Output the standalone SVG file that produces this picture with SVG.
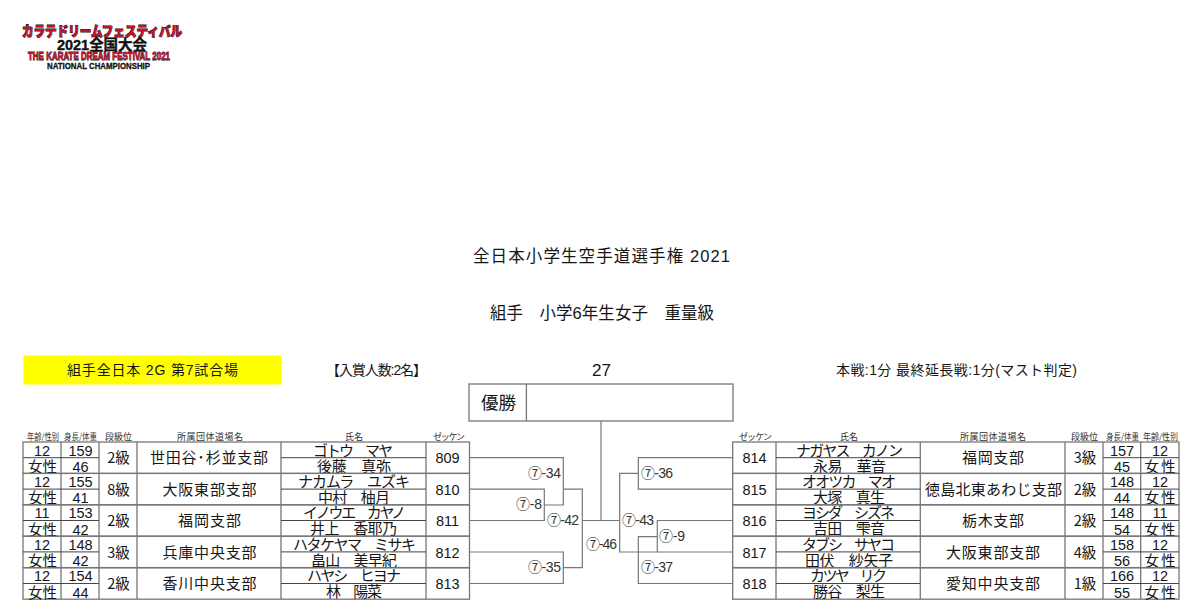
<svg xmlns="http://www.w3.org/2000/svg" width="1200" height="616" viewBox="0 0 1200 616">
<style>
text{font-family:"Liberation Sans","Noto Sans CJK JP",sans-serif;fill:#161616;font-size:14.5px}
.m{text-anchor:middle}
.cj{font-family:"Noto Sans CJK JP","Liberation Sans",sans-serif;font-size:14.5px}
.h{font-family:"Noto Sans CJK JP",sans-serif;font-size:9px;fill:#333}
.n{font-family:"Noto Sans CJK JP",sans-serif;font-size:15px}
.c{font-family:"Liberation Sans","Noto Sans CJK JP",sans-serif;font-size:14px;fill:#333}
.t{font-size:14px}
.title{font-size:16.5px}
.win{font-family:"Noto Sans CJK JP",sans-serif;font-size:17.5px}
.num{font-size:17px}
.g{fill:none;stroke:#777;stroke-width:1.3}
.i{fill:none;stroke:#444;stroke-width:1}
.con{fill:none;stroke:#777;stroke-width:1.2}
.lr{font-family:"Noto Sans CJK JP",sans-serif;font-weight:900;font-size:13.5px;fill:#c8102e;stroke:#111;stroke-width:1;paint-order:stroke}
.lr2{font-family:"Liberation Sans",sans-serif;font-weight:700;font-size:11px;fill:#c8102e;stroke:#111;stroke-width:.8;paint-order:stroke}
.lk{font-family:"Liberation Sans","Noto Sans CJK JP",sans-serif;font-weight:700;font-size:14.5px;fill:#111;stroke:#111;stroke-width:.4}
.lk2{font-family:"Liberation Sans",sans-serif;font-weight:700;font-size:8.5px;fill:#111;stroke:#111;stroke-width:.3}
</style>
<defs>
<g id="rowL"><rect class="g" x="23" y="0" width="446.5" height="31.4"/><path class="g" d="M61 0V31.4M99 0V31.4M137 0V31.4M281 0V31.4M426 0V31.4"/><path class="i" d="M23 15.7H99M281 15.7H426"/></g>
<g id="rowR"><rect class="g" x="732.7" y="0" width="446.3" height="31.4"/><path class="g" d="M776 0V31.4M920.3 0V31.4M1065 0V31.4M1103 0V31.4M1140.7 0V31.4"/><path class="i" d="M776 15.7H920.3M1103 15.7H1179"/></g>
</defs>

<g id="logo">
<text class="lr" x="22" y="36" textLength="160" lengthAdjust="spacingAndGlyphs">カラテドリームフェスティバル</text>
<text class="lk" x="57" y="50" textLength="90" lengthAdjust="spacingAndGlyphs">2021全国大会</text>
<text class="lr2" x="28" y="60" textLength="142" lengthAdjust="spacingAndGlyphs">THE KARATE DREAM FESTIVAL 2021</text>
<text class="lk2" x="47" y="68.500" textLength="103" lengthAdjust="spacingAndGlyphs">NATIONAL CHAMPIONSHIP</text>
</g>

<g id="titles">
<text class="title" x="473" y="262" textLength="257">全日本小学生空手道選手権 2021</text>
<text class="title" x="490" y="319" textLength="224">組手　小学6年生女子　重量級</text>
</g>

<g id="info">
<rect x="23.5" y="355.5" width="258" height="29" fill="#ffff00"/>
<text class="t" x="67" y="375" textLength="171">組手全日本 2G 第7試合場</text>
<text class="t" x="326" y="375" textLength="101">【入賞人数:2名】</text>
<text class="num" x="592" y="375.500">27</text>
<text class="t" x="836" y="375" textLength="241">本戦:1分 最終延長戦:1分(マスト判定)</text>
</g>

<g id="winner">
<rect class="g" x="469" y="384" width="264" height="37"/>
<path class="g" d="M526.4 384V421"/>
<text class="win" x="481" y="409">優勝</text>
</g>

<g id="headers">
<text class="h" x="27" y="439.5" textLength="32" lengthAdjust="spacingAndGlyphs">年齢/性別</text>
<text class="h" x="64" y="439.5" textLength="33" lengthAdjust="spacingAndGlyphs">身長/体重</text>
<text class="h" x="105" y="439.5" textLength="27">段級位</text>
<text class="h" x="177" y="439.5" textLength="66">所属団体道場名</text>
<text class="h" x="345" y="439.5" textLength="18">氏名</text>
<text class="h" x="433" y="439.5" textLength="32">ゼッケン</text>
<text class="h" x="739" y="439.5" textLength="33">ゼッケン</text>
<text class="h" x="840" y="439.5" textLength="18">氏名</text>
<text class="h" x="960" y="439.5" textLength="66">所属団体道場名</text>
<text class="h" x="1071" y="439.5" textLength="27">段級位</text>
<text class="h" x="1106" y="439.5" textLength="33" lengthAdjust="spacingAndGlyphs">身長/体重</text>
<text class="h" x="1143" y="439.5" textLength="35" lengthAdjust="spacingAndGlyphs">年齢/性別</text>
</g>

<g id="connectors">
<path class="con" d="M469.5 457.7H563.3V505H544.3"/>
<path class="con" d="M469.5 489.1H544.3V520.5H469.5"/>
<path class="con" d="M469.5 552H563.3V583.5H469.5"/>
<path class="con" d="M563.3 489.1H582.3V567.7H563.3"/>
<path class="con" d="M582.3 520.5H619.7"/>
<path class="con" d="M601 421V520.5"/>
<path class="con" d="M638.3 473.3H619.7V552H657.3"/>
<path class="con" d="M732.7 457.7H638.3V489.1H732.7"/>
<path class="con" d="M732.7 520.5H657.3V552H732.7"/>
<path class="con" d="M657.3 536.7H638.3V583.5H732.7"/>
</g>

<g id="match-labels">
<text class="c" x="528" y="477.5" textLength="33">⑦-34</text>
<text class="c" x="516" y="509" textLength="26">⑦-8</text>
<text class="c" x="547" y="524.5" textLength="32">⑦-42</text>
<text class="c" x="528" y="571.5" textLength="33">⑦-35</text>
<text class="c" x="586" y="548.5" textLength="31">⑦-46</text>
<text class="c" x="641" y="477.5" textLength="32">⑦-36</text>
<text class="c" x="622" y="524.5" textLength="32">⑦-43</text>
<text class="c" x="659" y="540.5" textLength="26">⑦-9</text>
<text class="c" x="641" y="571.5" textLength="32">⑦-37</text>
</g>

<g id="entry-809"><use href="#rowL" y="442"/>
<text class="m" x="42" y="455.5">12</text><text class="m cj" x="42.5" y="472" textLength="29">女性</text>
<text class="m" x="80.5" y="455.5">159</text><text class="m" x="80.5" y="472">46</text>
<text class="m cj" x="118.5" y="463">2級</text>
<text class="n" x="150" y="463" textLength="118">世田谷･杉並支部</text>
<text class="n" x="313" y="455.5" textLength="80">ゴトウ　マヤ</text><text class="n" x="317" y="471.5" textLength="74">後藤　真弥</text>
<text class="m" x="447.5" y="463">809</text></g>

<g id="entry-810"><use href="#rowL" y="473.4"/>
<text class="m" x="42" y="487">12</text><text class="m cj" x="42.5" y="503.4" textLength="29">女性</text>
<text class="m" x="80.5" y="487">155</text><text class="m" x="80.5" y="503.4">41</text>
<text class="m cj" x="118.5" y="494.5">8級</text>
<text class="n" x="162.500" y="494.5" textLength="94">大阪東部支部</text>
<text class="n" x="298" y="487" textLength="112">ナカムラ　ユズキ</text><text class="n" x="318" y="503" textLength="72">中村　柚月</text>
<text class="m" x="447.5" y="494.500">810</text></g>

<g id="entry-811"><use href="#rowL" y="504.8"/>
<text class="m" x="42" y="518.400">11</text><text class="m cj" x="42.5" y="534.800" textLength="29">女性</text>
<text class="m" x="80.5" y="518.400">153</text><text class="m" x="80.5" y="534.800">42</text>
<text class="m cj" x="118.5" y="526">2級</text>
<text class="n" x="178" y="526" textLength="63">福岡支部</text>
<text class="n" x="303" y="518.400" textLength="103">イノウエ　カヤノ</text><text class="n" x="310" y="534.400" textLength="87">井上　香耶乃</text>
<text class="m" x="447.5" y="526">811</text></g>

<g id="entry-812"><use href="#rowL" y="536.2"/>
<text class="m" x="42" y="549.8">12</text><text class="m cj" x="42.5" y="566.200" textLength="29">女性</text>
<text class="m" x="80.5" y="549.8">148</text><text class="m" x="80.5" y="566.200">42</text>
<text class="m cj" x="118.5" y="557.5">3級</text>
<text class="n" x="162.500" y="557.5" textLength="94">兵庫中央支部</text>
<text class="n" x="293" y="549.8" textLength="123">ハタケヤマ　ミサキ</text><text class="n" x="311" y="565.800" textLength="86">畠山　美早紀</text>
<text class="m" x="447.5" y="557.500">812</text></g>

<g id="entry-813"><use href="#rowL" y="567.8"/>
<text class="m" x="42" y="581.400">12</text><text class="m cj" x="42.5" y="597.800" textLength="29">女性</text>
<text class="m" x="80.5" y="581.400">154</text><text class="m" x="80.5" y="597.800">44</text>
<text class="m cj" x="118.5" y="589">2級</text>
<text class="n" x="162.500" y="589" textLength="94">香川中央支部</text>
<text class="n" x="307" y="581.400" textLength="94">ハヤシ　ヒヨナ</text><text class="n" x="326" y="597.400" textLength="56">林　陽菜</text>
<text class="m" x="447.5" y="589">813</text></g>

<g id="entry-814"><use href="#rowR" y="442"/>
<text class="m" x="754.5" y="463">814</text>
<text class="n" x="796" y="455.5" textLength="107">ナガヤス　カノン</text><text class="n" x="813" y="471.5" textLength="73">永易　華音</text>
<text class="n" x="962" y="463" textLength="62">福岡支部</text>
<text class="m cj" x="1085" y="463">3級</text>
<text class="m" x="1122" y="455.5">157</text><text class="m" x="1122" y="472">45</text>
<text class="m" x="1160" y="455.5">12</text><text class="m cj" x="1160" y="472" textLength="31">女性</text></g>

<g id="entry-815"><use href="#rowR" y="473.4"/>
<text class="m" x="754.5" y="494.5">815</text>
<text class="n" x="802" y="487" textLength="94">オオツカ　マオ</text><text class="n" x="813" y="503" textLength="72">大塚　真生</text>
<text class="n" x="925" y="494.5" textLength="137">徳島北東あわじ支部</text>
<text class="m cj" x="1085" y="494.5">2級</text>
<text class="m" x="1122" y="487">148</text><text class="m" x="1122" y="503.4">44</text>
<text class="m" x="1160" y="487">12</text><text class="m cj" x="1160" y="503.4" textLength="31">女性</text></g>

<g id="entry-816"><use href="#rowR" y="504.8"/>
<text class="m" x="754.5" y="526">816</text>
<text class="n" x="802" y="518.4" textLength="93">ヨシダ　シズネ</text><text class="n" x="813" y="534.4" textLength="72">吉田　雫音</text>
<text class="n" x="962" y="526" textLength="62">栃木支部</text>
<text class="m cj" x="1085" y="526">2級</text>
<text class="m" x="1122" y="518.4">148</text><text class="m" x="1122" y="534.8">54</text>
<text class="m" x="1160" y="518.4">11</text><text class="m cj" x="1160" y="534.8" textLength="31">女性</text></g>

<g id="entry-817"><use href="#rowR" y="536.2"/>
<text class="m" x="754.5" y="557.5">817</text>
<text class="n" x="802" y="549.8" textLength="93">タブシ　サヤコ</text><text class="n" x="805" y="565.8" textLength="88">田伏　紗矢子</text>
<text class="n" x="946" y="557.5" textLength="94">大阪東部支部</text>
<text class="m cj" x="1085" y="557.5">4級</text>
<text class="m" x="1122" y="549.8">158</text><text class="m" x="1122" y="566.2">56</text>
<text class="m" x="1160" y="549.8">12</text><text class="m cj" x="1160" y="566.2" textLength="31">女性</text></g>

<g id="entry-818"><use href="#rowR" y="567.8"/>
<text class="m" x="754.5" y="589">818</text>
<text class="n" x="810" y="581.4" textLength="77">カツヤ　リク</text><text class="n" x="813" y="597.4" textLength="72">勝谷　梨生</text>
<text class="n" x="946" y="589" textLength="94">愛知中央支部</text>
<text class="m cj" x="1085" y="589">1級</text>
<text class="m" x="1122" y="581.4">166</text><text class="m" x="1122" y="597.8">55</text>
<text class="m" x="1160" y="581.4">12</text><text class="m cj" x="1160" y="597.8" textLength="31">女性</text></g>
</svg>
